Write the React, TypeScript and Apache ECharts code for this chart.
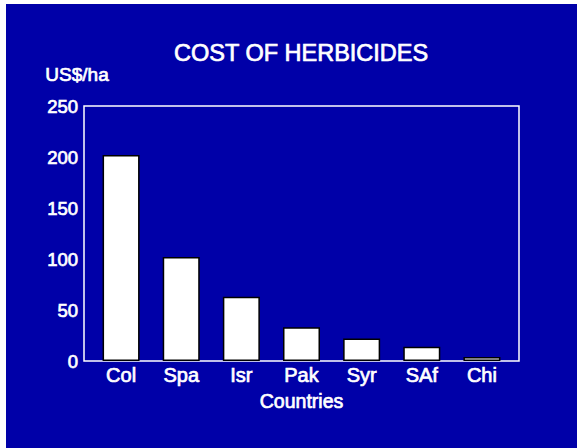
import React, { useEffect, useRef } from "react";
import * as echarts from "echarts";

const categories = ["Col", "Spa", "Isr", "Pak", "Syr", "SAf", "Chi"];
const costValues = [202, 102, 63, 33, 22, 14, 4];
const yTicks = [0, 50, 100, 150, 200, 250];

const FONT = "'Liberation Sans', Arial, sans-serif";
const BLUE = "#0000A8";
const heavy = { textBorderColor: "#fff", textBorderWidth: 0.7 };

export default function App() {
  const ref = useRef<HTMLDivElement>(null);
  useEffect(() => {
    if (!ref.current) return;
    const chart = echarts.init(ref.current, null, { renderer: "svg" });
    chart.setOption({
      animation: false,
      backgroundColor: BLUE,
      textStyle: { fontFamily: FONT, color: "#fff" },
      title: {
        text: "COST OF HERBICIDES",
        left: 163,
        top: 32,
        textStyle: { color: "#fff", fontSize: 23.5, fontWeight: "normal", fontFamily: FONT, ...heavy },
      },
      graphic: [
        {
          type: "text",
          left: 39,
          top: 61,
          style: { text: "US$/ha", fill: "#fff", font: `19px ${FONT}`, stroke: "#fff", lineWidth: 0.7 },
        },
      ],
      grid: [
        { left: 78, right: 58, top: 102, bottom: 87, show: true, borderColor: "#fff", borderWidth: 1.5, backgroundColor: "transparent" },
        { left: 85, width: 421, top: 102, bottom: 87 },
      ],
      xAxis: [
        { type: "category", gridIndex: 0, data: categories, show: false },
        {
          type: "category",
          gridIndex: 1,
          data: categories,
          name: "Countries",
          nameLocation: "middle",
          nameGap: 27,
          nameTextStyle: { color: "#fff", fontSize: 19.5, fontFamily: FONT, ...heavy },
          axisLine: { show: false },
          axisTick: { show: false },
          axisLabel: { color: "#fff", fontSize: 20, fontFamily: FONT, margin: 4, ...heavy },
        },
      ],
      yAxis: [
        {
          type: "value",
          gridIndex: 0,
          min: 0,
          max: 250,
          interval: 50,
          axisLine: { show: false },
          axisTick: { show: false },
          splitLine: { show: false },
          axisLabel: {
            color: "#fff",
            fontSize: 18.5,
            fontFamily: FONT,
            margin: 6,
            ...heavy,
            formatter: (v: number) => (yTicks.includes(v) ? String(v) : ""),
          },
        },
        { type: "value", gridIndex: 1, min: 0, max: 250, interval: 50, show: false },
      ],
      series: [
        {
          type: "bar",
          xAxisIndex: 1,
          yAxisIndex: 1,
          data: costValues,
          barWidth: 37,
          itemStyle: { color: "#fff", borderColor: "#000", borderWidth: 1.5 },
        },
      ],
    });
    return () => chart.dispose();
  }, []);
  return (
    <div style={{ position: "absolute", left: 0, top: 0, width: 577, height: 448, background: "#fff" }}>
      <div ref={ref} style={{ position: "absolute", left: 6, top: 4, width: 571, height: 444 }} />
    </div>
  );
}
